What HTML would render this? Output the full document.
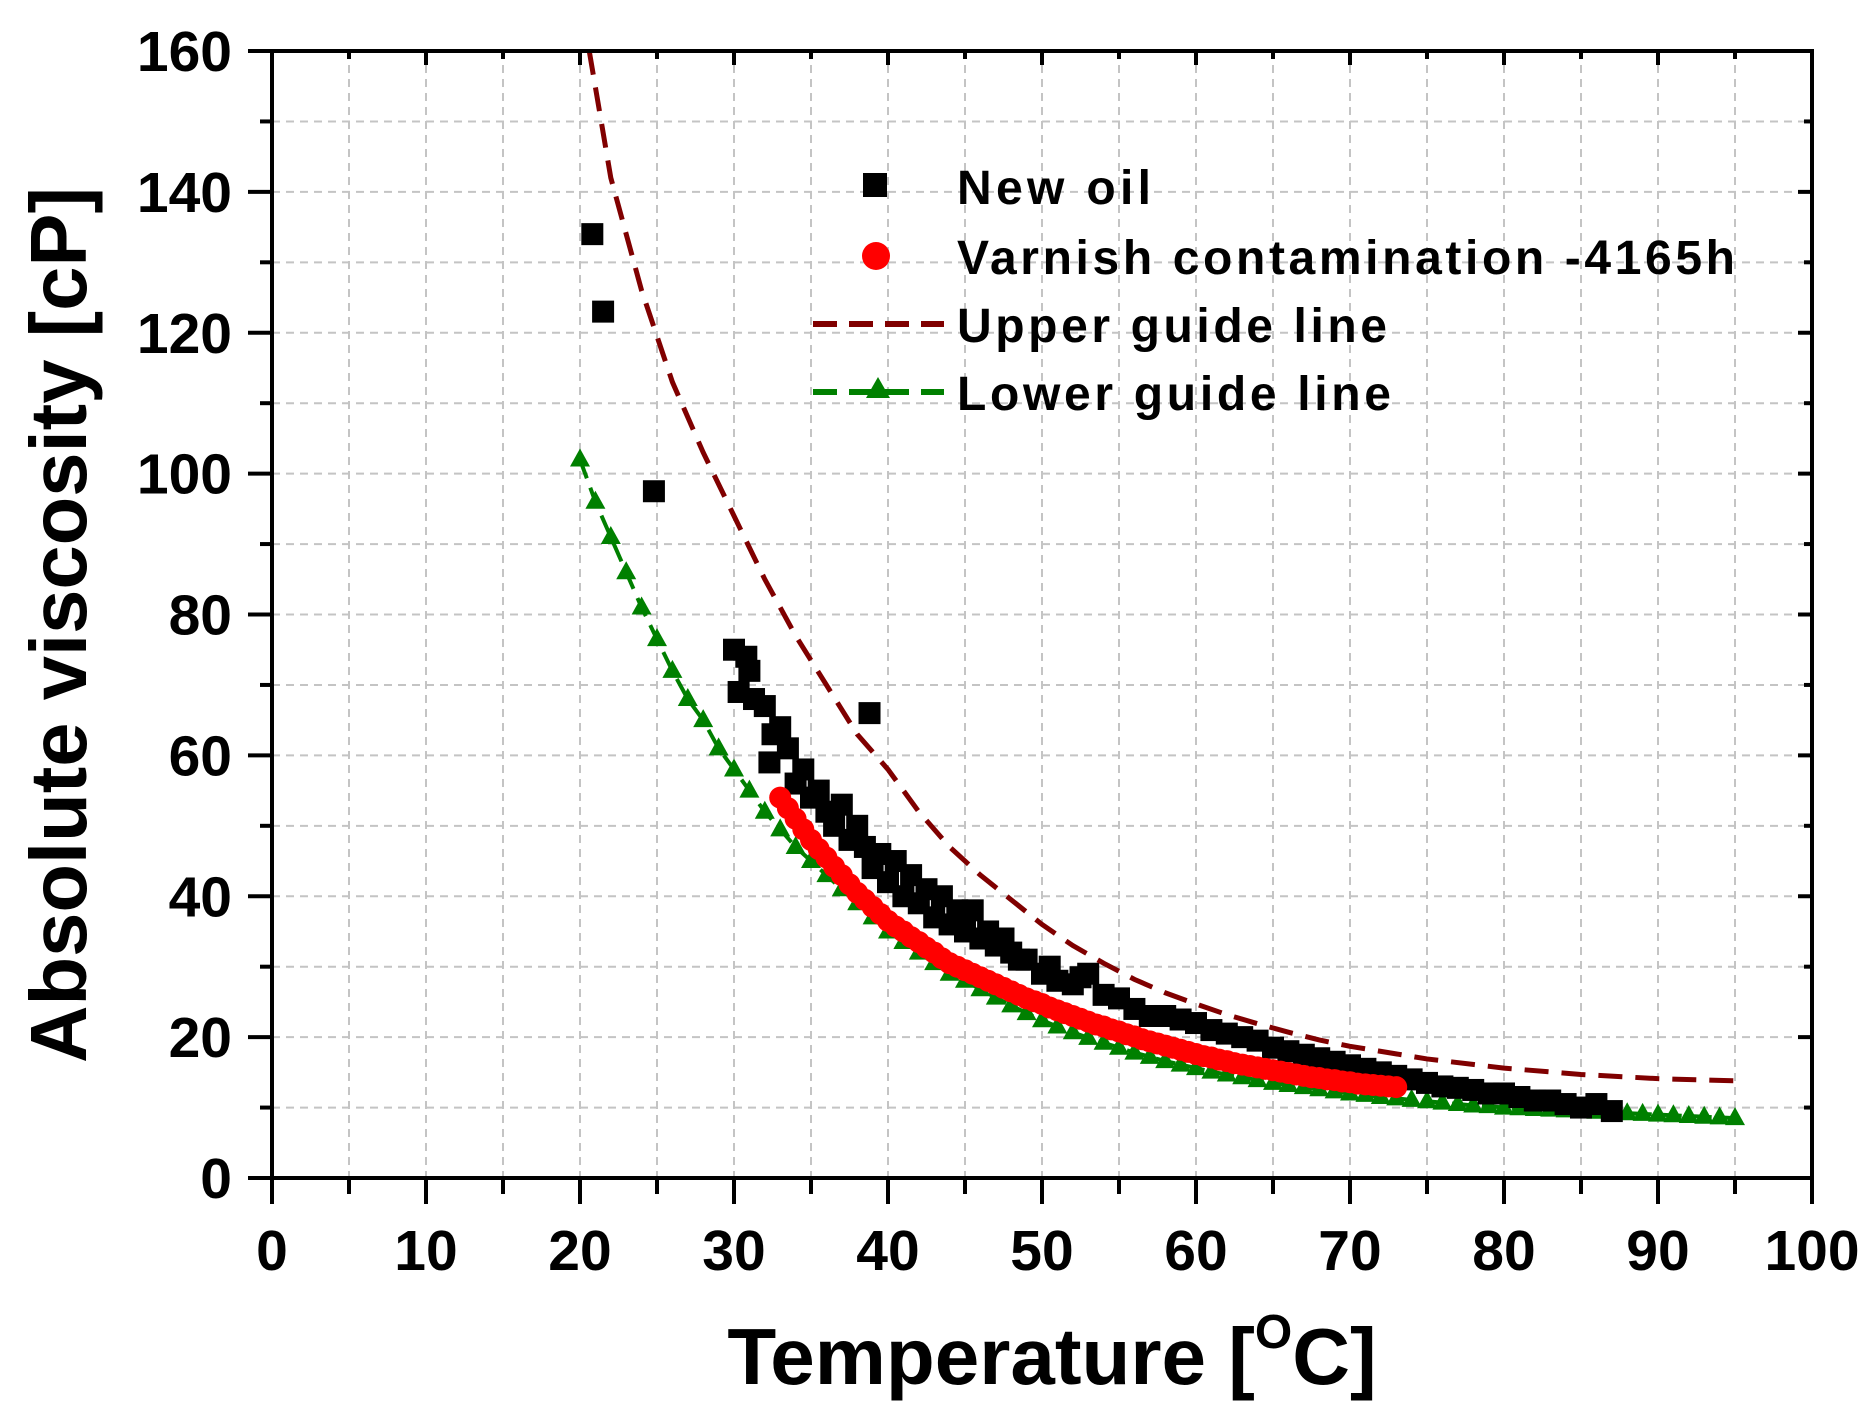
<!DOCTYPE html>
<html><head><meta charset="utf-8"><style>
html,body{margin:0;padding:0;background:#fff}
svg{display:block;font-family:"Liberation Sans",Arial,sans-serif;font-weight:bold}
</style></head><body>
<svg id="chart" width="1874" height="1405" viewBox="0 0 1874 1405" xmlns="http://www.w3.org/2000/svg">
<g id="grid"></g>
<g id="series"></g>
<g id="axes"></g>
<g id="legend">
  <rect x="863" y="173" width="24" height="24" fill="#000"/>
  <text x="957" y="204" font-size="48" textLength="194" lengthAdjust="spacing">New oil</text>
  <circle cx="876" cy="256" r="14" fill="#f00"/>
  <text x="957" y="274" font-size="48" textLength="778" lengthAdjust="spacing">Varnish contamination -4165h</text>
  <line x1="813" y1="324" x2="944" y2="324" stroke="#800000" stroke-width="6" stroke-dasharray="24 12"/>
  <text x="957" y="342" font-size="48" textLength="430" lengthAdjust="spacing">Upper guide line</text>
  <line x1="813" y1="392" x2="944" y2="392" stroke="#008000" stroke-width="6" stroke-dasharray="24 12"/>
  <polygon points="878,377 866,398 890,398" fill="#008000"/>
  <text x="957" y="410" font-size="48" textLength="434" lengthAdjust="spacing">Lower guide line</text>
</g>
<text transform="translate(86,625) rotate(-90)" text-anchor="middle" font-size="80" textLength="876" lengthAdjust="spacingAndGlyphs">Absolute viscosity [cP]</text>
<text x="1052" y="1384" text-anchor="middle" font-size="80">Temperature [<tspan font-size="48" dy="-36">O</tspan><tspan dy="36">C]</tspan></text>
</svg>
<script>
const xTicks=[0,10,20,30,40,50,60,70,80,90,100];
const yTicks=[0,20,40,60,80,100,120,140,160];
const upperX=[20.6,22,24,26,28,30,32,34,36,38,40,42,44,46,48,50,52,54,56,58,60,62,64,66,68,70,75,80,85,90,95];
const upperY=[160,142,126,113,103,94,85,77,70,63,58,52,47,43,39.5,36,33,30.5,28.2,26.3,24.7,23.2,21.9,20.7,19.6,18.7,16.9,15.6,14.7,14.1,13.8];
const lowerX=[20,21,22,23,24,25,26,27,28,29,30,31,32,33,34,35,36,37,38,39,40,41,42,43,44,45,46,47,48,49,50,51,52,53,54,55,56,57,58,59,60,61,62,63,64,65,66,67,68,69,70,71,72,73,74,75,76,77,78,79,80,81,82,83,84,85,86,87,88,89,90,91,92,93,94,95];
const lowerY=[102,96,91,86,81,76.5,72,68,65,61,58,55,52,49.5,47,45,43,41,39,37,35,33.5,32,30.5,29,28,26.8,25.6,24.5,23.4,22.4,21.5,20.7,19.9,19.2,18.5,17.8,17.2,16.6,16.1,15.6,15.1,14.7,14.3,13.9,13.5,13.2,12.9,12.6,12.3,12.0,11.8,11.5,11.3,11.1,10.9,10.7,10.5,10.3,10.2,10.0,9.9,9.8,9.7,9.6,9.5,9.4,9.3,9.2,9.1,9.0,8.9,8.8,8.7,8.6,8.5];
const varnishX=[33,33.5,34,34.5,35,35.5,36,36.5,37,37.5,38,38.5,39,39.5,40,40.5,41,41.5,42,42.5,43,43.5,44,44.5,45,45.5,46,46.5,47,47.5,48,48.5,49,49.5,50,50.5,51,51.5,52,52.5,53,53.5,54,54.5,55,55.5,56,56.5,57,57.5,58,58.5,59,59.5,60,60.5,61,61.5,62,62.5,63,63.5,64,64.5,65,65.5,66,66.5,67,67.5,68,68.5,69,69.5,70,70.5,71,71.5,72,72.5,73];
const varnishY=[54,52.5,51,49.5,48,46.7,45.5,44.2,43,41.7,40.5,39.5,38.5,37.5,36.5,35.7,35,34.2,33.5,32.7,32,31.2,30.5,30,29.5,29,28.5,28,27.5,27,26.5,26,25.5,25.1,24.7,24.2,23.8,23.4,23,22.6,22.2,21.8,21.5,21.1,20.8,20.4,20.1,19.7,19.4,19.1,18.8,18.5,18.2,17.9,17.6,17.3,17.1,16.8,16.6,16.3,16.1,15.9,15.7,15.5,15.3,15.1,14.9,14.7,14.5,14.3,14.2,14.0,13.9,13.7,13.6,13.4,13.3,13.2,13.1,13.0,12.9];
const oilX=[20.8,21.5,24.8,38.8,30,30.3,30.8,31,31.3,32,32.5,32.3,33,33.5,34,34.5,35,35.5,36,36.5,37,37.5,38,38.5,39,39.5,40,40.5,41,41.5,42,42.5,43,43.5,44,44.5,45,45.5,46,46.5,47,47.5,48,48.5,49,50,50.5,51,52,52.5,53,54,55,56,57,58,59,60,61,62,63,64,65,66,67,68,69,70,71,72,73,74,75,76,77,78,79,80,81,82,83,84,85,86,87];
const oilY=[134,123,97.5,66,75,69,74,72,68,67,63,59,64,61,56,58,54,55,52,50,53,48,50,47,44,46,42,45,40,43,39,41,37,40,36,38,35,38,34,35,33,34,32,31,31,29,30,28,27.5,28.5,29,26,25.5,24,23,23,22.5,22,21,20.5,20,19.5,18.5,18,17.5,17,16.5,16,15.5,15,14.5,14,13.5,13,12.8,12.5,12,12,11.5,11,11,10.5,10,10.5,9.5];

const X0=272,X1=1812,Y0=1178,Y1=51;
const sx=v=>X0+(X1-X0)*v/100;
const sy=v=>Y0-(Y0-Y1)*v/160;
const NS="http://www.w3.org/2000/svg";
function mk(tag,attrs,parent){const e=document.createElementNS(NS,tag);for(const k in attrs)e.setAttribute(k,attrs[k]);parent.appendChild(e);return e;}
const grid=document.getElementById('grid'),series=document.getElementById('series'),axes=document.getElementById('axes');

for(let v=5;v<100;v+=5){const l=mk('line',{x1:sx(v),x2:sx(v),y1:Y1,y2:Y0,stroke:'#c4c4c4','stroke-width':2,'stroke-dasharray':'8 6'},grid);

}
for(let v=10;v<160;v+=10){const l=mk('line',{x1:X0,x2:X1,y1:sy(v),y2:sy(v),stroke:'#c4c4c4','stroke-width':2,'stroke-dasharray':'8 6'},grid);

}

const lp=mk('polyline',{points:lowerX.map((x,i)=>sx(x)+','+sy(lowerY[i])).join(' '),fill:'none',stroke:'#008000','stroke-width':4,'stroke-dasharray':'20 10'},series);


lowerX.forEach((x,i)=>{const cx=sx(x),cy=sy(lowerY[i]);
const t=mk('polygon',{points:`${cx},${cy-11} ${cx-10},${cy+7} ${cx+10},${cy+7}`,fill:'#008000'},series);

});

oilX.forEach((x,i)=>{const r=mk('rect',{x:sx(x)-11,y:sy(oilY[i])-11,width:22,height:22,fill:'#000'},series);

});

varnishX.forEach((x,i)=>{const c=mk('circle',{cx:sx(x),cy:sy(varnishY[i]),r:11,fill:'#f00'},series);

});

const up=mk('polyline',{points:upperX.map((x,i)=>sx(x)+','+sy(upperY[i])).join(' '),fill:'none',stroke:'#800000','stroke-width':5,'stroke-dasharray':'24 13'},series);



const fr=mk('rect',{x:X0,y:Y1,width:X1-X0,height:Y0-Y1,fill:'none',stroke:'#000','stroke-width':4},axes);


for(let v=0;v<=100;v+=5){const major=v%10===0;const x=sx(v);
const t=mk('line',{x1:x,x2:x,y1:Y0,y2:Y0+(major?26:16),stroke:'#000','stroke-width':4},axes);


const t2=mk('line',{x1:x,x2:x,y1:Y1,y2:Y1+(major?14:8),stroke:'#000','stroke-width':4},axes);

}
for(let v=0;v<=160;v+=10){const major=v%20===0;const y=sy(v);
const t=mk('line',{x1:X0-(major?24:12),x2:X0,y1:y,y2:y,stroke:'#000','stroke-width':4},axes);


const t2=mk('line',{x1:X1-(major?14:8),x2:X1,y1:y,y2:y,stroke:'#000','stroke-width':4},axes);

}
xTicks.forEach(v=>{const t=mk('text',{x:sx(v),y:Y0+92,'text-anchor':'middle','font-size':57},axes);t.textContent=v;

});
yTicks.forEach(v=>{const t=mk('text',{x:X0-40,y:sy(v)+20,'text-anchor':'end','font-size':57},axes);t.textContent=v;

});
</script>
</body></html>
